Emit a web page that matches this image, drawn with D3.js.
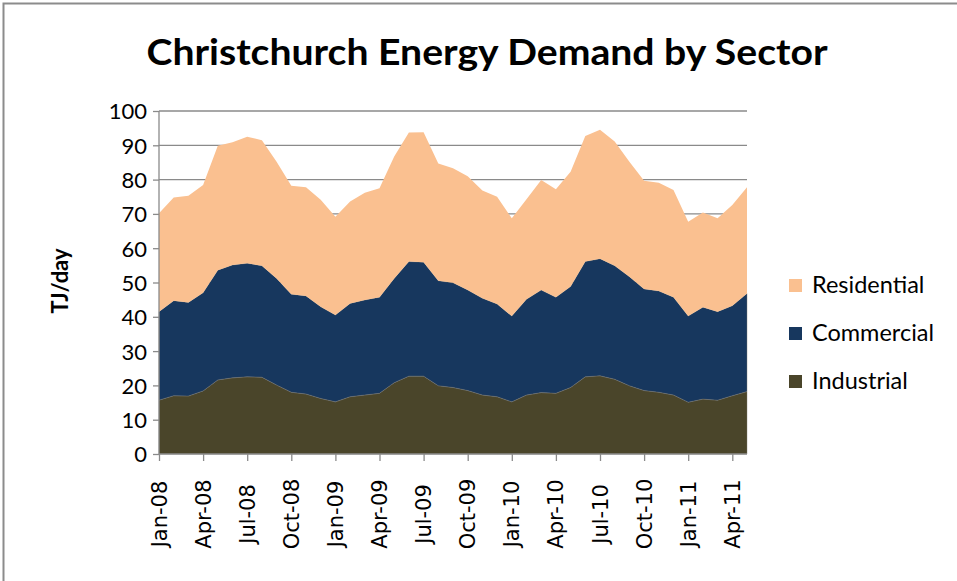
<!DOCTYPE html>
<html>
<head>
<meta charset="utf-8">
<script src="https://cdn.jsdelivr.net/npm/d3@7"></script>
<style>
  html, body { margin: 0; padding: 0; background: #fff; }
  svg { display: block; }
</style>
</head>
<body>
<svg id="chart" width="957" height="581"></svg>
<script>
// ---- Data ----
const months = [
  "Jan-08","Feb-08","Mar-08","Apr-08","May-08","Jun-08","Jul-08","Aug-08","Sep-08","Oct-08","Nov-08","Dec-08",
  "Jan-09","Feb-09","Mar-09","Apr-09","May-09","Jun-09","Jul-09","Aug-09","Sep-09","Oct-09","Nov-09","Dec-09",
  "Jan-10","Feb-10","Mar-10","Apr-10","May-10","Jun-10","Jul-10","Aug-10","Sep-10","Oct-10","Nov-10","Dec-10",
  "Jan-11","Feb-11","Mar-11","Apr-11","May-11"
];
const tickLabels = ["Jan-08","Apr-08","Jul-08","Oct-08","Jan-09","Apr-09","Jul-09","Oct-09","Jan-10","Apr-10","Jul-10","Oct-10","Jan-11","Apr-11"];
const industrial = [15.7,17.0,16.9,18.4,21.6,22.2,22.5,22.4,20.1,18.0,17.5,16.2,15.2,16.7,17.2,17.7,20.8,22.7,22.7,19.9,19.4,18.5,17.2,16.7,15.2,17.2,17.9,17.7,19.4,22.5,22.8,21.8,19.9,18.5,18.0,17.2,15.1,16.0,15.7,17.0,18.2];
const commercial = [25.8,27.7,27.3,28.6,32.0,32.9,33.1,32.5,31.1,28.6,28.6,26.7,25.3,27.2,27.7,28.0,30.4,33.4,33.2,30.6,30.5,29.3,28.2,27.0,25.0,27.9,29.9,28.0,29.4,33.6,34.1,33.1,31.8,29.6,29.5,28.5,25.1,26.8,25.8,26.2,28.6];
const residential = [28.7,30.1,31.1,31.4,36.3,35.8,36.9,36.6,34.0,31.6,31.7,31.2,28.7,29.7,31.3,31.8,35.5,37.6,37.9,34.2,33.4,33.2,31.4,31.3,28.5,29.2,32.1,31.5,33.5,36.6,37.6,36.2,33.5,31.6,31.6,31.3,27.5,27.6,27.2,29.4,31.0];
const seriesNames = ["Industrial","Commercial","Residential"];
const seriesColors = ["#4A452A","#17375E","#FAC090"];
const yTicks = [0,10,20,30,40,50,60,70,80,90,100];
const titleText = "Christchurch Energy Demand by Sector";
const yAxisTitle = "TJ/day";

// ---- Build table ----
const table = months.map((m, i) => ({
  month: m,
  Industrial: industrial[i],
  Commercial: commercial[i],
  Residential: residential[i]
}));

const svg = d3.select("#chart");

// Outer border (chart area frame)
svg.append("rect")
  .attr("x", 3.5).attr("y", 3.5)
  .attr("width", 970).attr("height", 600)
  .attr("fill", "none").attr("stroke", "#8c8c8c").attr("stroke-width", 2);

const pLeft = 159, pRight = 747, pTop = 111, pBottom = 454;

const x = d3.scalePoint().domain(months).range([pLeft, pRight]);
const y = d3.scaleLinear().domain([0, 100]).range([pBottom, pTop]);

// Gridlines
svg.append("g")
  .selectAll("line")
  .data(yTicks.filter(d => d > 0))
  .join("line")
  .attr("x1", pLeft).attr("x2", pRight)
  .attr("y1", d => y(d)).attr("y2", d => y(d))
  .attr("stroke", "#8a8a8a").attr("stroke-width", 1.3);

// Stacked areas
const stack = d3.stack().keys(seriesNames);
const layers = stack(table);
const area = d3.area()
  .x(d => x(d.data.month))
  .y0(d => y(d[0]))
  .y1(d => y(d[1]));

svg.append("g")
  .selectAll("path")
  .data(layers)
  .join("path")
  .attr("d", area)
  .attr("fill", (d, i) => seriesColors[i])
  .attr("stroke", (d, i) => i === 2 ? "none" : "#7d7a70")
  .attr("stroke-width", 0.4);

// Y axis
const yAxis = d3.axisLeft(y).tickValues(yTicks).tickSize(6).tickPadding(6);
const gy = svg.append("g").attr("transform", `translate(${pLeft},0)`).call(yAxis);
gy.select(".domain").attr("stroke", "#8a8a8a").attr("stroke-width", 1.3).attr("d", `M0,${pBottom}V${pTop}`);
gy.selectAll(".tick line").attr("stroke", "#8a8a8a").attr("stroke-width", 1.3);
gy.selectAll(".tick text")
  .attr("font-family", "Lato, 'Open Sans', sans-serif")
  .attr("font-size", 22)
  .attr("fill", "#000")
  .attr("dy", "0.36em");

// X axis
const xAxis = d3.axisBottom(x).tickValues(tickLabels).tickSize(7).tickFormat("");
const gx = svg.append("g").attr("transform", `translate(0,${pBottom})`).call(xAxis);
gx.select(".domain").attr("stroke", "#8a8a8a").attr("stroke-width", 1.3).attr("d", `M${pLeft},0H${pRight}`);
gx.selectAll(".tick line").attr("stroke", "#8a8a8a").attr("stroke-width", 1.3);

// X tick labels (rotated)
svg.append("g")
  .selectAll("text")
  .data(tickLabels)
  .join("text")
  .attr("transform", d => `translate(${x(d)},514) rotate(-90)`)
  .attr("text-anchor", "middle")
  .attr("dy", "0.36em")
  .attr("font-family", "'DejaVu Sans', sans-serif")
  .attr("font-size", 21)
  .attr("fill", "#000")
  .text(d => d);

// Title
svg.append("text")
  .attr("x", 487).attr("y", 65)
  .attr("text-anchor", "middle")
  .attr("font-family", "Lato, 'Open Sans', sans-serif")
  .attr("font-weight", "bold")
  .attr("font-size", 36)
  .attr("textLength", 681)
  .attr("lengthAdjust", "spacingAndGlyphs")
  .attr("fill", "#000")
  .text(titleText);

// Y axis title
svg.append("text")
  .attr("transform", "translate(60,281) rotate(-90)")
  .attr("text-anchor", "middle")
  .attr("dy", "0.36em")
  .attr("font-family", "Lato, 'Open Sans', sans-serif")
  .attr("font-weight", "bold")
  .attr("font-size", 22)
  .attr("fill", "#000")
  .text(yAxisTitle);

// Legend (Residential top, Industrial bottom)
const legendOrder = [2, 1, 0];
const lg = svg.append("g");
legendOrder.forEach((si, k) => {
  const cy = 285 + k * 48;
  lg.append("rect")
    .attr("x", 789).attr("y", cy - 6)
    .attr("width", 13).attr("height", 13)
    .attr("fill", seriesColors[si]);
  lg.append("text")
    .attr("x", 812).attr("y", cy)
    .attr("dy", "0.36em")
    .attr("font-family", "Lato, 'Open Sans', sans-serif")
    .attr("font-size", 23.5)
    .attr("fill", "#000")
    .text(seriesNames[si]);
});
</script>
</body>
</html>
